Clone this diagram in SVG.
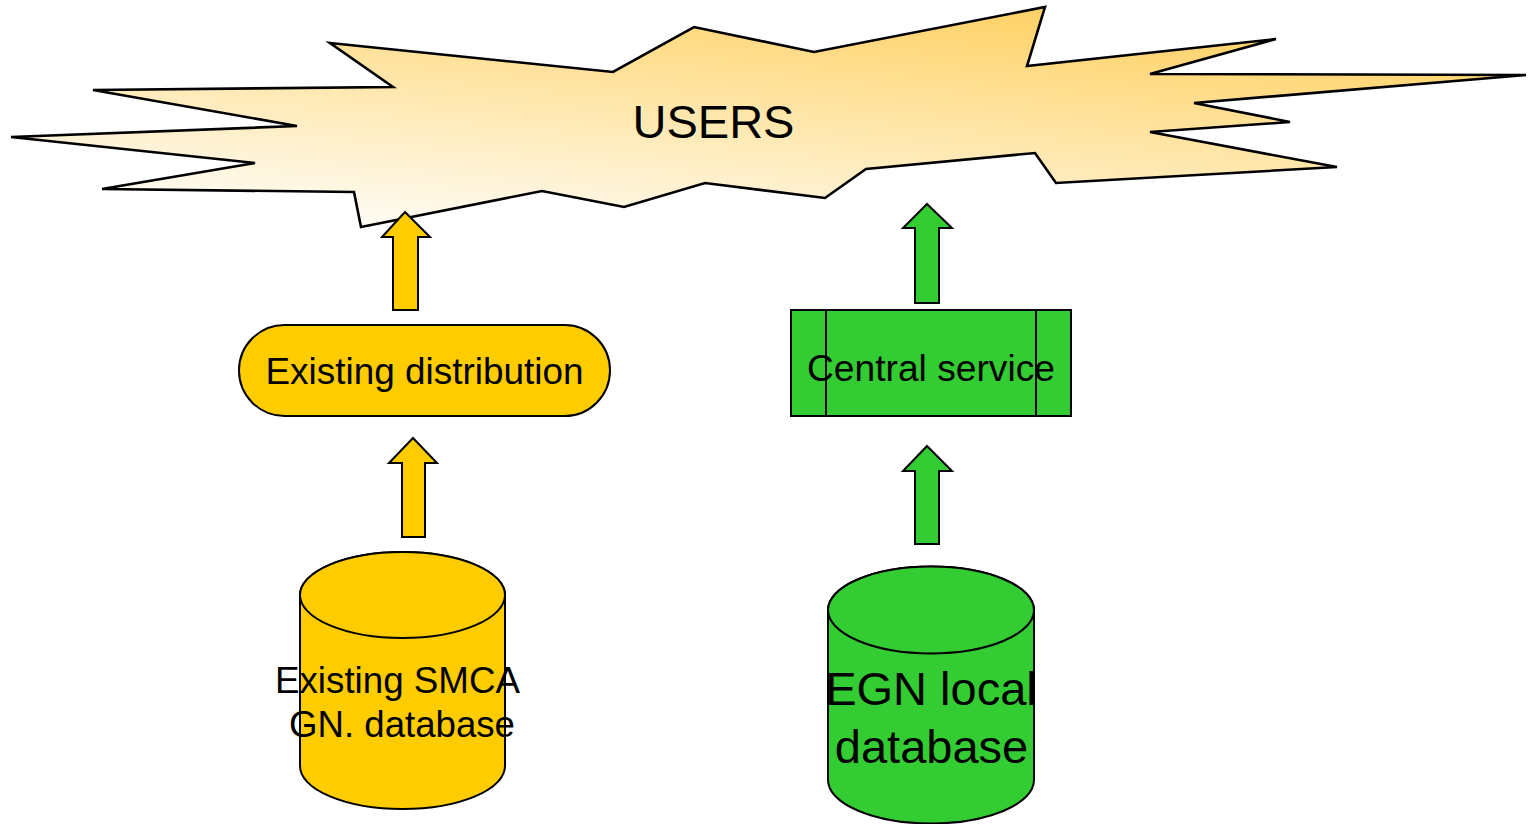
<svg xmlns="http://www.w3.org/2000/svg" width="1530" height="824" viewBox="0 0 1530 824">
<style>
.ln{stroke:#000;stroke-width:2;stroke-linejoin:miter}
.star{stroke:#000;stroke-width:2.6;stroke-linejoin:miter;fill:url(#sky)}
.y{fill:#FFCC00}
.g{fill:#33CC33}
.t{font-family:"Liberation Sans",Arial,sans-serif;fill:#000;text-anchor:middle}
</style>
<defs>
<linearGradient id="sky" x1="0.1" y1="1" x2="0.75" y2="0">
<stop offset="0" stop-color="#FFFFFF"/>
<stop offset="1" stop-color="#FFD060"/>
</linearGradient>
</defs>
<rect width="1530" height="824" fill="#fff"/>
<g id="users">
<polygon class="star" points="330,43 613,72 694,27 814,52 1045,7 1027,66 1276,39 1150,74 1526,75 1194,103 1290,122 1150,132 1337,167 1056,183 1035,153 866,169 825,198 705,183 624,207 542,191 361,227 354,192 102,189 255,163 11,137 297,126 93,90 393,87"/>
<text class="t" x="713.5" y="138" font-size="47">USERS</text>
</g>
<g id="connectors">
<polygon id="arrow-dist-users" class="ln y" points="405,212 430,237 418,237 418,310 393,310 393,237 382,237"/>
<polygon id="arrow-smca-dist" class="ln y" points="413,438 437,463 425,463 425,537 402,537 402,463 389,463"/>
<polygon id="arrow-central-users" class="ln g" points="927,204 952,228 939,228 939,303 915,303 915,228 903,228"/>
<polygon id="arrow-egn-central" class="ln g" points="927,446 952,471 939,471 939,544 915,544 915,471 903,471"/>
</g>
<g id="existing-distribution">
<rect class="ln y" x="239" y="325" width="371" height="91" rx="45.5" ry="45.5"/>
<text class="t" x="424.5" y="384" font-size="37" textLength="318" lengthAdjust="spacingAndGlyphs">Existing distribution</text>
</g>
<g id="central-service">
<rect class="ln g" x="791" y="310" width="280" height="106"/>
<line class="ln" x1="826" y1="310" x2="826" y2="416"/>
<line class="ln" x1="1036" y1="310" x2="1036" y2="416"/>
<text class="t" x="931" y="381" font-size="37" textLength="248" lengthAdjust="spacingAndGlyphs">Central service</text>
</g>
<g id="smca-database">
<path class="ln y" d="M300,595 L300,766 A102.5,43 0 0 0 505,766 L505,595 A102.5,43 0 0 0 300,595 Z"/>
<ellipse class="ln y" cx="402.5" cy="595" rx="102.5" ry="43"/>
<text class="t" x="397.5" y="693" font-size="36.5" textLength="245" lengthAdjust="spacingAndGlyphs">Existing SMCA</text>
<text class="t" x="402" y="737" font-size="36.5" textLength="226" lengthAdjust="spacingAndGlyphs">GN. database</text>
</g>
<g id="egn-database">
<path class="ln g" d="M828,610 L828,780 A103,43.5 0 0 0 1034,780 L1034,610 A103,43.5 0 0 0 828,610 Z"/>
<ellipse class="ln g" cx="931" cy="610" rx="103" ry="43.5"/>
<text class="t" x="931" y="705" font-size="47">EGN local</text>
<text class="t" x="931.5" y="763" font-size="47">database</text>
</g>
</svg>
